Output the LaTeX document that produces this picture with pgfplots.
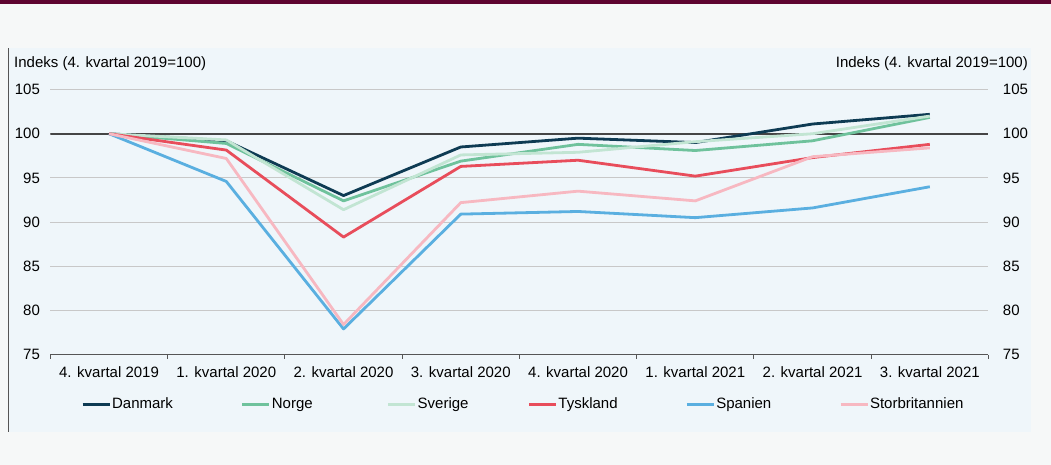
\documentclass[border=0pt]{standalone}
\usepackage{pgfplots}
\pgfplotsset{compat=1.18}
\usepackage{fontspec}
\setmainfont{Liberation Sans}
\definecolor{bgc}{HTML}{F6F8F8}
\definecolor{maroon}{HTML}{5E0530}
\definecolor{panel}{HTML}{EFF6FA}
\definecolor{cDK}{HTML}{0E3B53}
\definecolor{cNO}{HTML}{6FC29C}
\definecolor{cSE}{HTML}{C2E5D3}
\definecolor{cDE}{HTML}{E84D5B}
\definecolor{cES}{HTML}{5AAFE0}
\definecolor{cUK}{HTML}{F7B8C1}
\definecolor{gridc}{HTML}{C8C8C8}
\definecolor{axc}{HTML}{555555}
\definecolor{refc}{HTML}{454545}
\begin{document}
\begin{tikzpicture}[x=1bp,y=1bp]
\useasboundingbox (0,0) rectangle (1051,465);
\fill[bgc] (0,0) rectangle (1051,465);
\fill[maroon] (0,461) rectangle (1051,465);
\fill[panel] (8,33) rectangle (1031,417);
\draw[axc, line width=1bp] (8.5,33) -- (8.5,417);
\node[anchor=west, inner sep=0pt] at (14,401) {\fontsize{15bp}{18bp}\selectfont Indeks (4. kvartal 2019=100)};
\node[anchor=east, inner sep=0pt] at (1028,401) {\fontsize{15bp}{18bp}\selectfont Indeks (4. kvartal 2019=100)};
\begin{axis}[
  at={(43,125)}, anchor=south west,
  scale only axis, width=938bp, height=265bp,
  xmin=-0.5, xmax=7.5, ymin=75, ymax=105,
  ytick={75,80,...,105},
  xtick={0,...,7},
  xticklabels={4. kvartal 2019,1. kvartal 2020,2. kvartal 2020,3. kvartal 2020,4. kvartal 2020,1. kvartal 2021,2. kvartal 2021,3. kvartal 2021},
  minor xtick={-0.5,0.5,...,7.5},
  axis x line*=bottom, axis y line*=left,
  y axis line style={draw=none},
  x axis line style={axc, line width=1.3bp},
  major tick length=0pt, minor tick length=4bp, tick align=outside,
  minor x tick style={axc, line width=1bp},
  ymajorgrids, grid style={gridc, line width=1bp},
  tick label style={font=\fontsize{15bp}{18bp}\selectfont},
  /pgf/number format/assume math mode=true,
  yticklabel style={xshift=-7bp},
  xticklabel style={yshift=-9bp},
  legend columns=6,
  legend style={at={(0.0327,-0.1876)}, anchor=west, draw=none, fill=none, inner sep=0pt,
    font=\fontsize{15bp}{18bp}\selectfont, column sep=0pt,
    nodes={inner sep=1pt}},
  legend image code/.code={\draw[#1, line width=2.8bp] (0bp,0bp) -- (27bp,0bp);},
  every axis plot/.append style={line width=2.8bp, line join=round},
]
\addplot[refc, line width=2bp, forget plot] coordinates {(-0.5,100) (7.5,100)};
\addplot[cDK] coordinates {(0,100) (1,99.2) (2,93.0) (3,98.5) (4,99.5) (5,99.0) (6,101.1) (7,102.2)};
\addlegendentry{\makebox[128bp][l]{Danmark}}
\addplot[cNO] coordinates {(0,100) (1,98.9) (2,92.4) (3,96.9) (4,98.8) (5,98.1) (6,99.2) (7,101.85)};
\addlegendentry{\makebox[114bp][l]{Norge}}
\addplot[cSE] coordinates {(0,100) (1,99.3) (2,91.4) (3,97.6) (4,97.9) (5,99.1) (6,100.0) (7,102.0)};
\addlegendentry{\makebox[109bp][l]{Sverige}}
\addplot[cDE] coordinates {(0,100) (1,98.15) (2,88.3) (3,96.3) (4,97.0) (5,95.2) (6,97.3) (7,98.8)};
\addlegendentry{\makebox[126bp][l]{Tyskland}}
\addplot[cES] coordinates {(0,100) (1,94.6) (2,77.9) (3,90.9) (4,91.2) (5,90.5) (6,91.6) (7,94.0)};
\addlegendentry{\makebox[122bp][l]{Spanien}}
\addplot[cUK] coordinates {(0,100) (1,97.2) (2,78.4) (3,92.2) (4,93.5) (5,92.4) (6,97.4) (7,98.4)};
\addlegendentry{Storbritannien}
\end{axis}
\begin{axis}[
  at={(43,125)}, anchor=south west,
  scale only axis, width=938bp, height=265bp,
  xmin=-0.5, xmax=7.5, ymin=75, ymax=105,
  ytick={75,80,...,105},
  hide x axis, axis y line*=right,
  y axis line style={draw=none}, major tick length=0pt,
  tick label style={font=\fontsize{15bp}{18bp}\selectfont},
  /pgf/number format/assume math mode=true,
  yticklabel style={xshift=11bp},
]
\addplot[draw=none] coordinates {(0,100)};
\end{axis}
\end{tikzpicture}
\end{document}
